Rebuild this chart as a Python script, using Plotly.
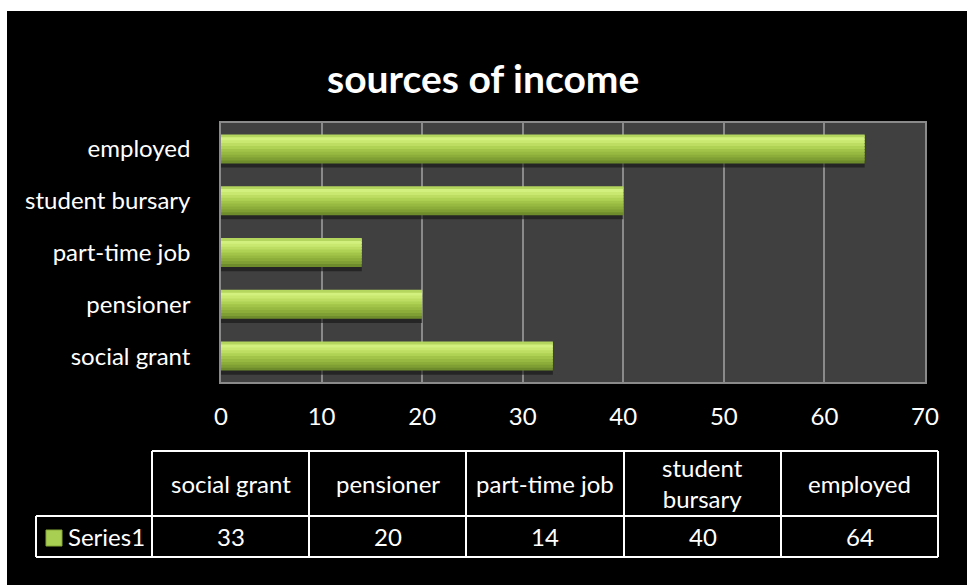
import plotly.graph_objects as go

categories = ["social grant", "pensioner", "part-time job", "student bursary", "employed"]
values = [33, 20, 14, 40, 64]
series_name = "Series1"
x_ticks = [0, 10, 20, 30, 40, 50, 60, 70]
title_text = "sources of income"

W, H = 967, 585
FONT = "Lato"
FS = 24

def px(x):
    return x / W

def py(y):
    return 1 - y / H

fig = go.Figure()

bar_w = 0.56

# soft drop shadow under each bar
fig.add_trace(go.Bar(
    x=values, y=categories, orientation="h",
    marker=dict(color="rgba(20,20,20,0.6)", line=dict(width=0)),
    offset=-bar_w / 2 - 0.08, width=bar_w, hoverinfo="skip", showlegend=False,
))

# stacked stripes (bottom -> top) imitating the glossy vertical gradient
stripe_colors = ["#6f8c2c", "#7f9e33", "#8cad3a", "#97b941", "#a2c549",
                 "#afd154", "#bcdd62", "#c8e870", "#d2f07e", "#b4d65e"]
n = len(stripe_colors)
sw = bar_w / n
for k, col in enumerate(stripe_colors):
    w = sw * 1.6 if k < n - 1 else sw
    fig.add_trace(go.Bar(
        x=values, y=categories, orientation="h",
        marker=dict(color=col, line=dict(width=0)),
        offset=-bar_w / 2 + k * sw, width=w,
        hoverinfo="x+y" if k == 0 else "skip", showlegend=False,
    ))

fig.update_layout(
    width=W, height=H, autosize=False,
    margin=dict(l=0, r=0, t=0, b=0, pad=0, autoexpand=False),
    showlegend=False,
    paper_bgcolor="black",
    plot_bgcolor="#404040",
    barmode="overlay",
    font=dict(family=FONT, color="white", size=FS),
    xaxis=dict(
        domain=[px(221), px(925)], range=[0, 70], automargin=False,
        tickvals=x_ticks, ticktext=[str(t) for t in x_ticks],
        showgrid=True, gridcolor="#8a8a8a", gridwidth=1.5,
        zeroline=False, showline=True, linecolor="#8a8a8a", linewidth=1.5, mirror=True,
        ticks="outside", ticklen=12, tickcolor="rgba(0,0,0,0)",
        tickfont=dict(size=FS, family=FONT, color="white"),
        fixedrange=True,
    ),
    yaxis=dict(
        domain=[py(382), py(123)], automargin=False,
        categoryorder="array", categoryarray=categories,
        showgrid=False, zeroline=False,
        showline=True, linecolor="#8a8a8a", linewidth=1.5, mirror=True,
        ticks="outside", ticklen=24, tickcolor="rgba(0,0,0,0)",
        tickfont=dict(size=FS, family=FONT, color="white"),
        fixedrange=True,
    ),
)

shapes = []
annotations = []

# white strips at top and left (frame outside the black chart area)
shapes.append(dict(type="rect", xref="paper", yref="paper", x0=0, x1=1, y0=py(11), y1=1,
                   fillcolor="white", line=dict(width=0), layer="above"))
shapes.append(dict(type="rect", xref="paper", yref="paper", x0=0, x1=px(7), y0=0, y1=1,
                   fillcolor="white", line=dict(width=0), layer="above"))

# title
annotations.append(dict(text="<b>" + title_text + "</b>", xref="paper", yref="paper",
                        x=px(483), y=py(78), showarrow=False,
                        font=dict(size=39, family=FONT, color="white"),
                        xanchor="center", yanchor="middle"))

# data table
col_edges = [152, 309, 466, 624, 781, 938]
row_top, row_mid, row_bot = 451, 516, 557
key_left = 36
line_style = dict(color="white", width=2)

def hline(x0, x1, y):
    shapes.append(dict(type="line", xref="paper", yref="paper", x0=px(x0), x1=px(x1),
                       y0=py(y), y1=py(y), line=line_style))

def vline(x, y0, y1):
    shapes.append(dict(type="line", xref="paper", yref="paper", x0=px(x), x1=px(x),
                       y0=py(y0), y1=py(y1), line=line_style))

hline(col_edges[0], col_edges[-1], row_top)
hline(key_left, col_edges[-1], row_mid)
hline(key_left, col_edges[-1], row_bot)
for xe in col_edges:
    vline(xe, row_top, row_bot)
vline(key_left, row_mid, row_bot)

def wrap(label):
    return label.replace(" ", "<br>") if len(label) > 13 else label

for i, (cat, val) in enumerate(zip(categories, values)):
    cx = (col_edges[i] + col_edges[i + 1]) / 2
    annotations.append(dict(text=wrap(cat), xref="paper", yref="paper",
                            x=px(cx), y=py((row_top + row_mid) / 2), showarrow=False,
                            font=dict(size=FS, family=FONT, color="white"),
                            xanchor="center", yanchor="middle"))
    annotations.append(dict(text=str(val), xref="paper", yref="paper",
                            x=px(cx), y=py((row_mid + row_bot) / 2), showarrow=False,
                            font=dict(size=FS, family=FONT, color="white"),
                            xanchor="center", yanchor="middle"))

# legend key + series name
shapes.append(dict(type="rect", xref="paper", yref="paper",
                   x0=px(46), x1=px(62), y0=py(546), y1=py(530),
                   fillcolor="#a8cf52", line=dict(color="#86a836", width=1)))
annotations.append(dict(text=series_name, xref="paper", yref="paper",
                        x=px(66), y=py((row_mid + row_bot) / 2), showarrow=False,
                        font=dict(size=FS, family=FONT, color="white"),
                        xanchor="left", yanchor="middle"))

fig.update_layout(shapes=shapes, annotations=annotations)
fig.write_html(
    "out.html",
    post_script="document.body.style.margin='0';document.body.style.overflow='hidden';"
                "document.documentElement.style.overflow='hidden';",
)
